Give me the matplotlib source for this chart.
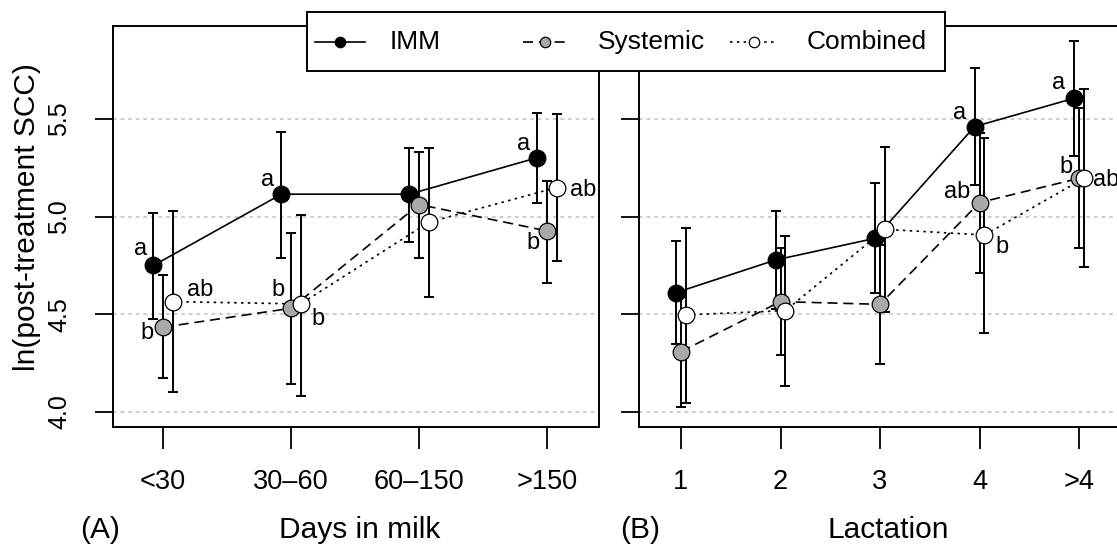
#!/usr/bin/env python3
"""Post-treatment SCC by days in milk and lactation, IMM / Systemic / Combined."""

import matplotlib

matplotlib.use("Agg")
import matplotlib.pyplot as plt
from matplotlib.lines import Line2D

plt.rcParams["font.family"] = ["Liberation Sans", "DejaVu Sans"]

# ---- data --------------------------------------------------------------
DIM_LABELS = ["<30", "30\u201360", "60\u2013150", ">150"]
LACT_LABELS = ["1", "2", "3", "4", ">4"]
SERIES = ["IMM", "Systemic", "Combined"]

DIM_IMM_MEAN = [4.750, 5.115, 5.115, 5.302]
DIM_IMM_LO = [4.476, 4.790, 4.869, 5.069]
DIM_IMM_HI = [5.017, 5.432, 5.353, 5.529]
DIM_SYS_MEAN = [4.434, 4.531, 5.062, 4.927]
DIM_SYS_LO = [4.172, 4.143, 4.790, 4.662]
DIM_SYS_HI = [4.700, 4.915, 5.330, 5.183]
DIM_COMB_MEAN = [4.565, 4.553, 4.971, 5.149]
DIM_COMB_LO = [4.101, 4.083, 4.590, 4.773]
DIM_COMB_HI = [5.031, 5.009, 5.353, 5.524]

LACT_IMM_MEAN = [4.611, 4.778, 4.889, 5.461, 5.606]
LACT_IMM_LO = [4.347, 4.527, 4.608, 5.162, 5.311]
LACT_IMM_HI = [4.874, 5.029, 5.174, 5.760, 5.901]
LACT_SYS_MEAN = [4.309, 4.565, 4.551, 5.072, 5.196]
LACT_SYS_LO = [4.027, 4.292, 4.246, 4.713, 4.838]
LACT_SYS_HI = [4.590, 4.838, 4.856, 5.430, 5.554]
LACT_COMB_MEAN = [4.497, 4.519, 4.935, 4.906, 5.196]
LACT_COMB_LO = [4.045, 4.133, 4.512, 4.406, 4.741]
LACT_COMB_HI = [4.944, 4.903, 5.358, 5.401, 5.651]

DIM_LETTERS = {
    "IMM": ["a", "a", "", "a"],
    "Systemic": ["b", "b", "", "b"],
    "Combined": ["ab", "b", "", "ab"],
}
LACT_LETTERS = {
    "IMM": ["", "", "", "a", "a"],
    "Systemic": ["", "", "", "ab", "b"],
    "Combined": ["", "", "", "b", "ab"],
}

Y_TICKS = [4.0, 4.5, 5.0, 5.5]

# ---- styling / layout ----------------------------------------------------
W, H, DPI = 1117, 549, 100
STYLE = {
    "IMM": dict(ls="-", face="black"),
    "Systemic": dict(ls=(0, (6, 3.5)), face="#a9a9a9"),
    "Combined": dict(ls=(0, (1.5, 2.6)), face="white"),
}
# letter offsets in pixels (dx, dy up) relative to each marker
DIM_LETTER_OFFSETS = {
    "IMM": [(-13, 16), (-14, 14), None, (-14, 14)],
    "Systemic": [(-16, -6), (-13, 18), None, (-14, -12)],
    "Combined": [(27, 12), (17, -15), None, (26, -2)],
}
LACT_LETTER_OFFSETS = {
    "IMM": [None, None, None, (-15, 14), (-15, 15)],
    "Systemic": [None, None, None, (-22, 11), (-13, 11)],
    "Combined": [None, None, None, (18, -12), (22, -2)],
}


def px_box(left, right, top, bottom):
    return [left / W, (H - bottom) / H, (right - left) / W, (bottom - top) / H]


def draw_panel(ax, labels, means, los, his, letters, offsets, shift, xlim):
    n = len(labels)
    for si, name in enumerate(SERIES):
        xs = [i + shift[si] for i in range(n)]
        m, lo, hi = means[si], los[si], his[si]
        ax.errorbar(
            xs, m,
            yerr=[[a - b for a, b in zip(m, lo)], [b - a for a, b in zip(m, hi)]],
            fmt="none", ecolor="black", elinewidth=1.4,
            capsize=3.8, capthick=1.4, zorder=2,
        )
        ax.plot(xs, m, color="black", lw=1.2, linestyle=STYLE[name]["ls"], zorder=3)
        ax.plot(
            xs, m, "o", ms=12, mfc=STYLE[name]["face"], mec="black",
            mew=0.9, linestyle="none", zorder=4 + si,
        )
        for i, txt in enumerate(letters[name]):
            if not txt:
                continue
            ax.annotate(
                txt, (xs[i], m[i]), xytext=offsets[name][i],
                textcoords="offset pixels", ha="center", va="center",
                fontsize=17, zorder=8, annotation_clip=False,
            )

    ax.set_xlim(*xlim)
    ax.set_ylim(3.923, 5.976)
    ax.set_xticks(range(n))
    ax.set_xticklabels(labels)
    ax.set_yticks(Y_TICKS)
    ax.set_yticklabels([f"{v:.1f}" for v in Y_TICKS], rotation=90, va="center")
    ax.grid(axis="y", color="#c8c8c8", lw=1.3, linestyle=(0, (2, 2.2)), zorder=1)
    ax.set_axisbelow(True)
    ax.tick_params(axis="x", direction="out", length=15.5, width=1.3,
                   labelsize=19.5, pad=15)
    ax.tick_params(axis="y", direction="out", length=13, width=1.3,
                   labelsize=18, pad=17)
    for sp in ax.spines.values():
        sp.set_linewidth(1.4)


fig = plt.figure(figsize=(W / DPI, H / DPI), dpi=DPI)

ax_a = fig.add_axes(px_box(113, 599, 26, 427))
draw_panel(
    ax_a, DIM_LABELS,
    [DIM_IMM_MEAN, DIM_SYS_MEAN, DIM_COMB_MEAN],
    [DIM_IMM_LO, DIM_SYS_LO, DIM_COMB_LO],
    [DIM_IMM_HI, DIM_SYS_HI, DIM_COMB_HI],
    DIM_LETTERS, DIM_LETTER_OFFSETS, [-0.075, 0.0, 0.075], (-0.391, 3.406),
)

ax_b = fig.add_axes(px_box(639, 1125, 26, 427))
draw_panel(
    ax_b, LACT_LABELS,
    [LACT_IMM_MEAN, LACT_SYS_MEAN, LACT_COMB_MEAN],
    [LACT_IMM_LO, LACT_SYS_LO, LACT_COMB_LO],
    [LACT_IMM_HI, LACT_SYS_HI, LACT_COMB_HI],
    LACT_LETTERS, LACT_LETTER_OFFSETS, [-0.05, 0.0, 0.05], (-0.422, 4.462),
)
ax_b.tick_params(axis="y", labelleft=False)

# axis titles
fig.text(27 / W, 1 - 217 / H, "ln(post-treatment SCC)", rotation=90,
         ha="center", va="center", fontsize=21.5)
for x, txt in [(100, "(A)"), (360, "Days in milk"), (640, "(B)"), (888, "Lactation")]:
    fig.text(x / W, 1 - 530 / H, txt, ha="center", va="center", fontsize=21.5)

# legend drawn in its own framed box, laid out in pixel units
ax_leg = fig.add_axes(px_box(307, 945, 12, 71))
ax_leg.set_zorder(10)
ax_leg.set_xlim(307, 945)
ax_leg.set_ylim(71, 12)
ax_leg.set_xticks([])
ax_leg.set_yticks([])
for sp in ax_leg.spines.values():
    sp.set_linewidth(1.4)
legend_slots = [(315, 365, 390), (523, 567, 598), (730, 777, 807)]
for name, (h0, h1, tx) in zip(SERIES, legend_slots):
    ax_leg.add_line(Line2D([h0, h1], [42, 42], color="black", lw=1.2,
                           linestyle=STYLE[name]["ls"]))
    ax_leg.add_line(Line2D([(h0 + h1) / 2], [42], marker="o", ms=7.5,
                           mfc=STYLE[name]["face"], mec="black", mew=0.9))
    ax_leg.text(tx, 42, name, ha="left", va="center", fontsize=19)

fig.savefig("out.png", dpi=DPI)
